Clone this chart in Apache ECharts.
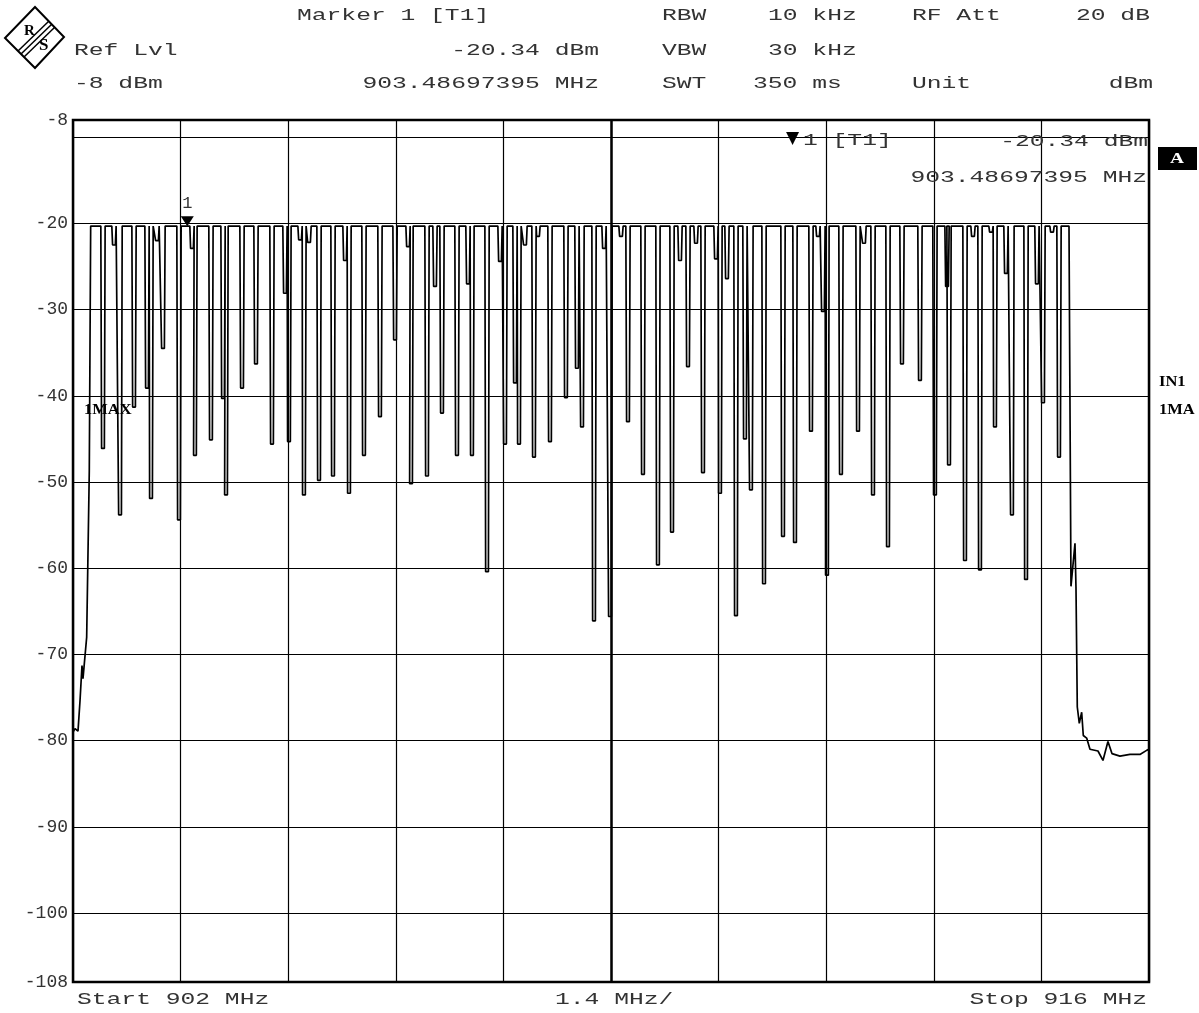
<!DOCTYPE html>
<html>
    <head>
        <meta charset="utf-8" />
        <title>Spectrum 902 - 916 MHz</title>
        <script src="https://cdn.jsdelivr.net/npm/echarts@6.0.0/dist/echarts.min.js"></script>
        <script>
            // sweep settings
            const startMHz = 902;
            const stopMHz = 916;
            const spanDiv = 1.4;
            const refLevel = -8;
            const bottomLevel = -108;
            const carrierLevel = -20.3;

            // grid lines and y labels (dBm)
            const gridLevels = [-100, -90, -80, -70, -60, -50, -40, -30, -20, -10];
            const labelLevels = [-108, -100, -90, -80, -70, -60, -50, -40, -30, -20, -8];

            // rising edge at the start of the sweep
            const headFreq = [902.0, 902.026, 902.065, 902.091, 902.117, 902.13, 902.143, 902.178, 902.212, 902.23];
            const headLevel = [-79.0, -78.6, -78.9, -75.4, -71.3, -72.8, -71.5, -68.0, -48.7, -20.3];

            // hop dips: centre frequency (MHz) and bottom level (dBm)
            const dipFreq = [
                902.39, 902.533, 902.612, 902.794, 902.963, 903.015, 903.093, 903.171, 903.379, 903.548,
                903.587, 903.795, 903.952, 903.991, 904.199, 904.381, 904.589, 904.758, 904.81, 904.954,
                905.005, 905.071, 905.201, 905.383, 905.539, 905.591, 905.786, 905.994, 906.19, 906.359,
                906.398, 906.606, 906.71, 906.801, 906.996, 907.139, 907.191, 907.387, 907.556, 907.621,
                907.751, 907.803, 907.881, 907.998, 908.05, 908.206, 908.414, 908.557, 908.623, 908.779,
                908.909, 908.987, 909.13, 909.221, 909.416, 909.611, 909.794, 909.898, 910.002, 910.106,
                910.197, 910.366, 910.418, 910.509, 910.626, 910.743, 910.821, 910.991, 911.238, 911.394,
                911.602, 911.693, 911.758, 911.81, 911.992, 912.214, 912.292, 912.409, 912.604, 912.786,
                913.02, 913.215, 913.372, 913.398, 913.606, 913.71, 913.801, 913.944, 913.996, 914.139,
                914.217, 914.4, 914.542, 914.621, 914.738, 914.829
            ];
            const dipLevel = [
                -46.1, -22.5, -53.8, -41.3, -39.1, -51.9, -22.0, -34.5, -54.4, -22.9,
                -46.9, -45.1, -40.3, -51.5, -39.1, -36.3, -45.6, -28.1, -45.3, -21.9,
                -51.5, -22.2, -49.8, -49.3, -24.3, -51.3, -46.9, -42.4, -33.5, -22.7,
                -50.2, -49.3, -27.3, -42.0, -46.9, -27.0, -46.9, -60.4, -24.4, -45.6,
                -38.5, -45.6, -22.5, -47.1, -21.5, -45.3, -40.2, -36.8, -43.6, -66.1,
                -22.9, -65.6, -21.5, -43.0, -49.1, -59.6, -55.8, -24.3, -36.6, -22.3,
                -48.9, -24.1, -51.3, -26.4, -65.5, -45.0, -50.9, -61.8, -56.3, -57.0,
                -44.1, -21.5, -30.2, -60.8, -49.1, -44.1, -22.3, -51.5, -57.5, -36.3,
                -38.2, -51.5, -27.3, -48.0, -59.1, -21.5, -60.2, -21.0, -43.6, -25.8,
                -53.8, -61.3, -27.0, -40.8, -21.0, -47.1
            ];

            // falling edge and noise floor at the end of the sweep
            const tailFreq = [
                914.959, 914.985, 915.011, 915.037, 915.05, 915.067, 915.093, 915.124, 915.145, 915.189,
                915.232, 915.336, 915.401, 915.466, 915.518, 915.622, 915.752, 915.882, 915.974, 916.0
            ];
            const tailLevel = [
                -20.3, -62.1, -62.2, -57.1, -62.2, -76.1, -78.0, -76.7, -79.4, -79.7,
                -81.0, -81.2, -82.3, -80.1, -81.5, -81.8, -81.6, -81.6, -81.1, -81.0
            ];

            const markerFreq = 903.48697395;
            const markerLevel = -20.34;

            function txt(text, x, y, opts) {
                opts = opts || {};
                return {
                    type: "text",
                    x: x,
                    y: y,
                    scaleX: opts.scaleX || 1.54,
                    silent: true,
                    z: 100,
                    style: {
                        text: text,
                        font: opts.font || '16px "Liberation Mono", "DejaVu Sans Mono", monospace',
                        fill: opts.fill || "#333",
                        align: opts.align || "left",
                        verticalAlign: "middle",
                    },
                };
            }

            function criarGrafico() {
                // each dip: steep sides with a short flat bottom
                const halfTop = 0.028;
                const halfBottom = 0.018;
                const pts = [];
                for (let i = 0; i < headFreq.length; i++) {
                    pts.push([headFreq[i] - startMHz, headLevel[i]]);
                }
                for (let i = 0; i < dipFreq.length; i++) {
                    const f = dipFreq[i] - startMHz;
                    pts.push([f - halfTop, carrierLevel]);
                    pts.push([f - halfBottom, dipLevel[i]]);
                    pts.push([f + halfBottom, dipLevel[i]]);
                    pts.push([f + halfTop, carrierLevel]);
                }
                for (let i = 0; i < tailFreq.length; i++) {
                    pts.push([tailFreq[i] - startMHz, tailLevel[i]]);
                }

                const monoFont = '"Liberation Mono", "DejaVu Sans Mono", monospace';
                const boldFont = 'bold 15px "Liberation Serif", "DejaVu Serif", serif';

                const chart = echarts.init(document.getElementById("grafico"));
                const option = {
                    animation: false,
                    backgroundColor: "#ffffff",
                    grid: {
                        left: 73,
                        right: 50,
                        top: 120,
                        bottom: 31,
                        show: true,
                        borderColor: "#000",
                        borderWidth: 2.5,
                        backgroundColor: "transparent",
                    },
                    xAxis: {
                        type: "value",
                        min: 0,
                        max: stopMHz - startMHz,
                        interval: spanDiv,
                        axisLine: {show: false},
                        axisTick: {show: false},
                        axisLabel: {show: false},
                        splitLine: {lineStyle: {color: "#000", width: 1.2}},
                    },
                    yAxis: {
                        type: "value",
                        min: bottomLevel,
                        max: refLevel,
                        axisLine: {show: false},
                        axisTick: {show: false, customValues: gridLevels},
                        splitLine: {lineStyle: {color: "#000", width: 1.2}},
                        axisLabel: {
                            customValues: labelLevels,
                            fontFamily: monoFont,
                            fontSize: 18,
                            color: "#333",
                            margin: 5,
                            verticalAlign: "middle",
                            padding: [0, 0, 7, 0],
                        },
                    },
                    series: [
                        {
                            type: "line",
                            data: pts,
                            showSymbol: false,
                            lineStyle: {color: "#000", width: 1.7},
                            markLine: {
                                silent: true,
                                symbol: "none",
                                label: {show: false},
                                lineStyle: {color: "#000", width: 2.5, type: "solid"},
                                data: [{xAxis: (stopMHz - startMHz) / 2}],
                            },
                            markPoint: {
                                silent: true,
                                symbol: "triangle",
                                symbolRotate: 180,
                                symbolSize: [13, 10],
                                symbolOffset: [0, -5],
                                itemStyle: {color: "#000"},
                                label: {
                                    show: true,
                                    position: "top",
                                    distance: 4,
                                    formatter: "1",
                                    fontFamily: monoFont,
                                    fontSize: 17,
                                    color: "#333",
                                },
                                data: [{coord: [markerFreq - startMHz, markerLevel]}],
                            },
                        },
                    ],
                    graphic: [
                        // R&S logo
                        {
                            type: "polygon",
                            silent: true,
                            shape: {points: [[35, 7], [64, 37], [35, 68], [5, 38]]},
                            style: {fill: "#fff", stroke: "#000", lineWidth: 2},
                        },
                        {type: "line", silent: true, shape: {x1: 18, y1: 51, x2: 49, y2: 21}, style: {stroke: "#000", lineWidth: 1.5}},
                        {type: "line", silent: true, shape: {x1: 21, y1: 54, x2: 52, y2: 24}, style: {stroke: "#000", lineWidth: 1.5}},
                        {type: "line", silent: true, shape: {x1: 24, y1: 57, x2: 55, y2: 27}, style: {stroke: "#000", lineWidth: 1.5}},
                        txt("R", 24, 31, {font: 'bold 15px "Liberation Serif", serif', scaleX: 1, fill: "#000"}),
                        txt("S", 39, 46, {font: 'bold 17px "Liberation Serif", serif', scaleX: 1, fill: "#000"}),

                        // header
                        txt("Marker 1 [T1]", 297, 16),
                        txt("RBW", 662, 16),
                        txt("10 kHz", 768, 16),
                        txt("RF Att", 912, 16),
                        txt("20 dB", 1076, 16),
                        txt("Ref Lvl", 74, 51),
                        txt("-20.34 dBm", 599, 51, {align: "right"}),
                        txt("VBW", 662, 51),
                        txt("30 kHz", 768, 51),
                        txt("-8 dBm", 74, 84),
                        txt("903.48697395 MHz", 599, 84, {align: "right"}),
                        txt("SWT", 662, 84),
                        txt("350 ms", 753, 84),
                        txt("Unit", 912, 84),
                        txt("dBm", 1153, 84, {align: "right"}),

                        // marker readout in the plot
                        txt("\u25BC", 786, 139, {font: '17px "DejaVu Sans", sans-serif', scaleX: 1, fill: "#000"}),
                        txt("1 [T1]", 803, 141),
                        txt("-20.34 dBm", 1148, 142, {align: "right"}),
                        txt("903.48697395 MHz", 1147, 178, {align: "right"}),

                        // side annotations
                        {
                            type: "rect",
                            silent: true,
                            shape: {x: 1158, y: 147, width: 39, height: 23},
                            style: {fill: "#000"},
                        },
                        txt("A", 1177, 159, {font: boldFont, fill: "#fff", align: "center", scaleX: 1.3}),
                        txt("IN1", 1159, 382, {font: boldFont, scaleX: 1.1, fill: "#000"}),
                        txt("1MA", 1159, 410, {font: boldFont, scaleX: 1.1, fill: "#000"}),
                        txt("1MAX", 84, 410, {font: boldFont, scaleX: 1.1, fill: "#000"}),

                        // frequency axis texts
                        txt("Start 902 MHz", 77, 1000),
                        txt("1.4 MHz/", 555, 1000),
                        txt("Stop 916 MHz", 1147, 1000, {align: "right"}),
                    ],
                };

                chart.setOption(option);
            }

            window.onload = criarGrafico;
        </script>
    </head>
    <body style="margin: 0">
        <div id="grafico" style="width: 1199px; height: 1013px"></div>
    </body>
</html>
